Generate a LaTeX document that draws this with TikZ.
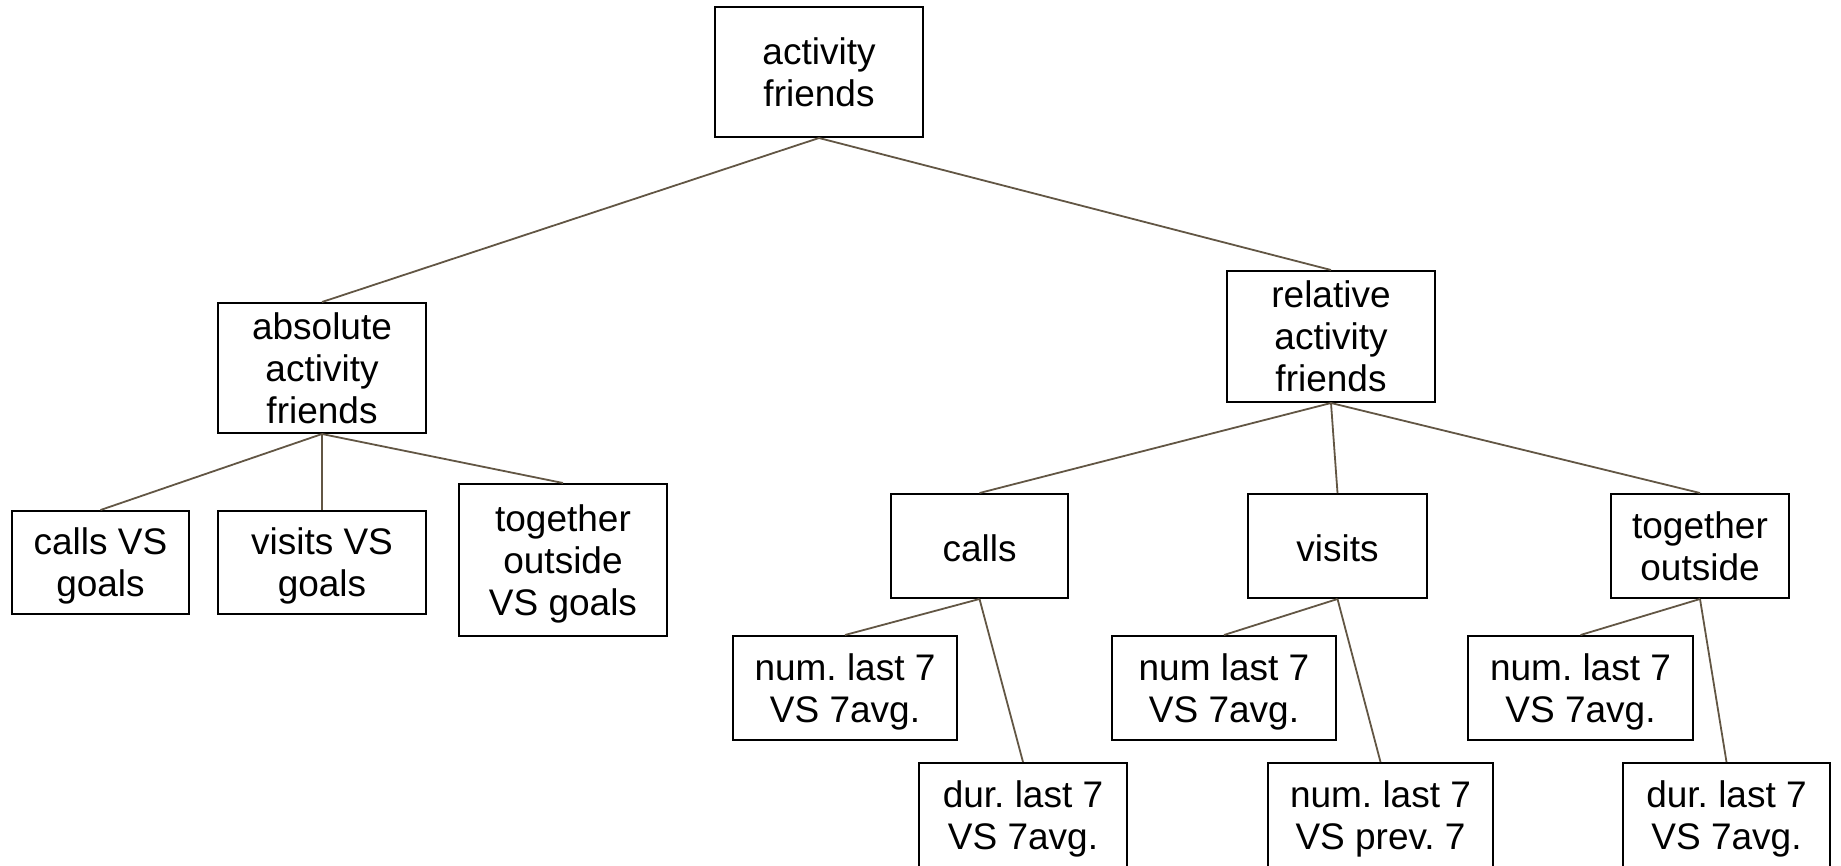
\documentclass[tikz,border=0pt]{standalone}
\usepackage{fontspec}
\setmainfont{Liberation Sans}
\frenchspacing
\definecolor{edgebrown}{RGB}{98,86,68}

\begin{document}
\begin{tikzpicture}[x=1pt, y=-1pt,
    box/.style={draw=black, line width=2pt, fill=white, align=center,
      inner sep=0pt, font=\fontsize{37}{42}\selectfont, text depth=0pt,
      execute at begin node={\rule{0pt}{31pt}}},
    edge/.style={draw=edgebrown, line width=1.8pt}]
    \useasboundingbox (0,0) rectangle (1841,865);
    % top levels
    \node[box, minimum width=208pt, minimum height=130pt] (root) at (819,72) {activity\\friends};
    \node[box, minimum width=208pt, minimum height=130pt] (absact) at (322,368) {absolute\\activity\\friends};
    \node[box, minimum width=208pt, minimum height=131pt] (relact) at (1331,336.5) {relative\\activity\\friends};
    % absolute branch
    \node[box, minimum width=177pt, minimum height=103pt] (callsgoal) at (100.5,562.5) {calls VS\\goals};
    \node[box, minimum width=208pt, minimum height=103pt] (visitsgoal) at (322,562.5) {visits VS\\goals};
    \node[box, minimum width=208pt, minimum height=152pt] (outgoal) at (563,560) {together\\outside\\VS goals};
    % relative branch
    \node[box, minimum width=177pt, minimum height=104pt] (calls) at (979.5,546) {calls};
    \node[box, minimum width=179pt, minimum height=104pt] (visits) at (1337.5,546) {visits};
    \node[box, minimum width=178pt, minimum height=104pt] (outside) at (1700,546) {together\\outside};
    \node[box, minimum width=224pt, minimum height=104pt] (callsnum) at (845,688) {num. last 7\\VS 7avg.};
    \node[box, minimum width=224pt, minimum height=104pt] (visitsnum) at (1224,688) {num last 7\\VS 7avg.};
    \node[box, minimum width=225pt, minimum height=104pt] (outnum) at (1580.5,688) {num. last 7\\VS 7avg.};
    \node[box, minimum width=208pt, minimum height=104pt] (callsdur) at (1023,815) {dur. last 7\\VS 7avg.};
    \node[box, minimum width=225pt, minimum height=104pt] (visitsprev) at (1380.5,815) {num. last 7\\VS prev. 7};
    \node[box, minimum width=207pt, minimum height=104pt] (outdur) at (1726.5,815) {dur. last 7\\VS 7avg.};
    % connectors
    \foreach \p/\c in {root/absact, root/relact,
        absact/callsgoal, absact/visitsgoal, absact/outgoal,
        relact/calls, relact/visits, relact/outside,
        calls/callsnum, calls/callsdur, visits/visitsnum, visits/visitsprev,
        outside/outnum, outside/outdur} {
      \draw[edge] (\p.south) -- (\c.north);
    }
\end{tikzpicture}
\end{document}
